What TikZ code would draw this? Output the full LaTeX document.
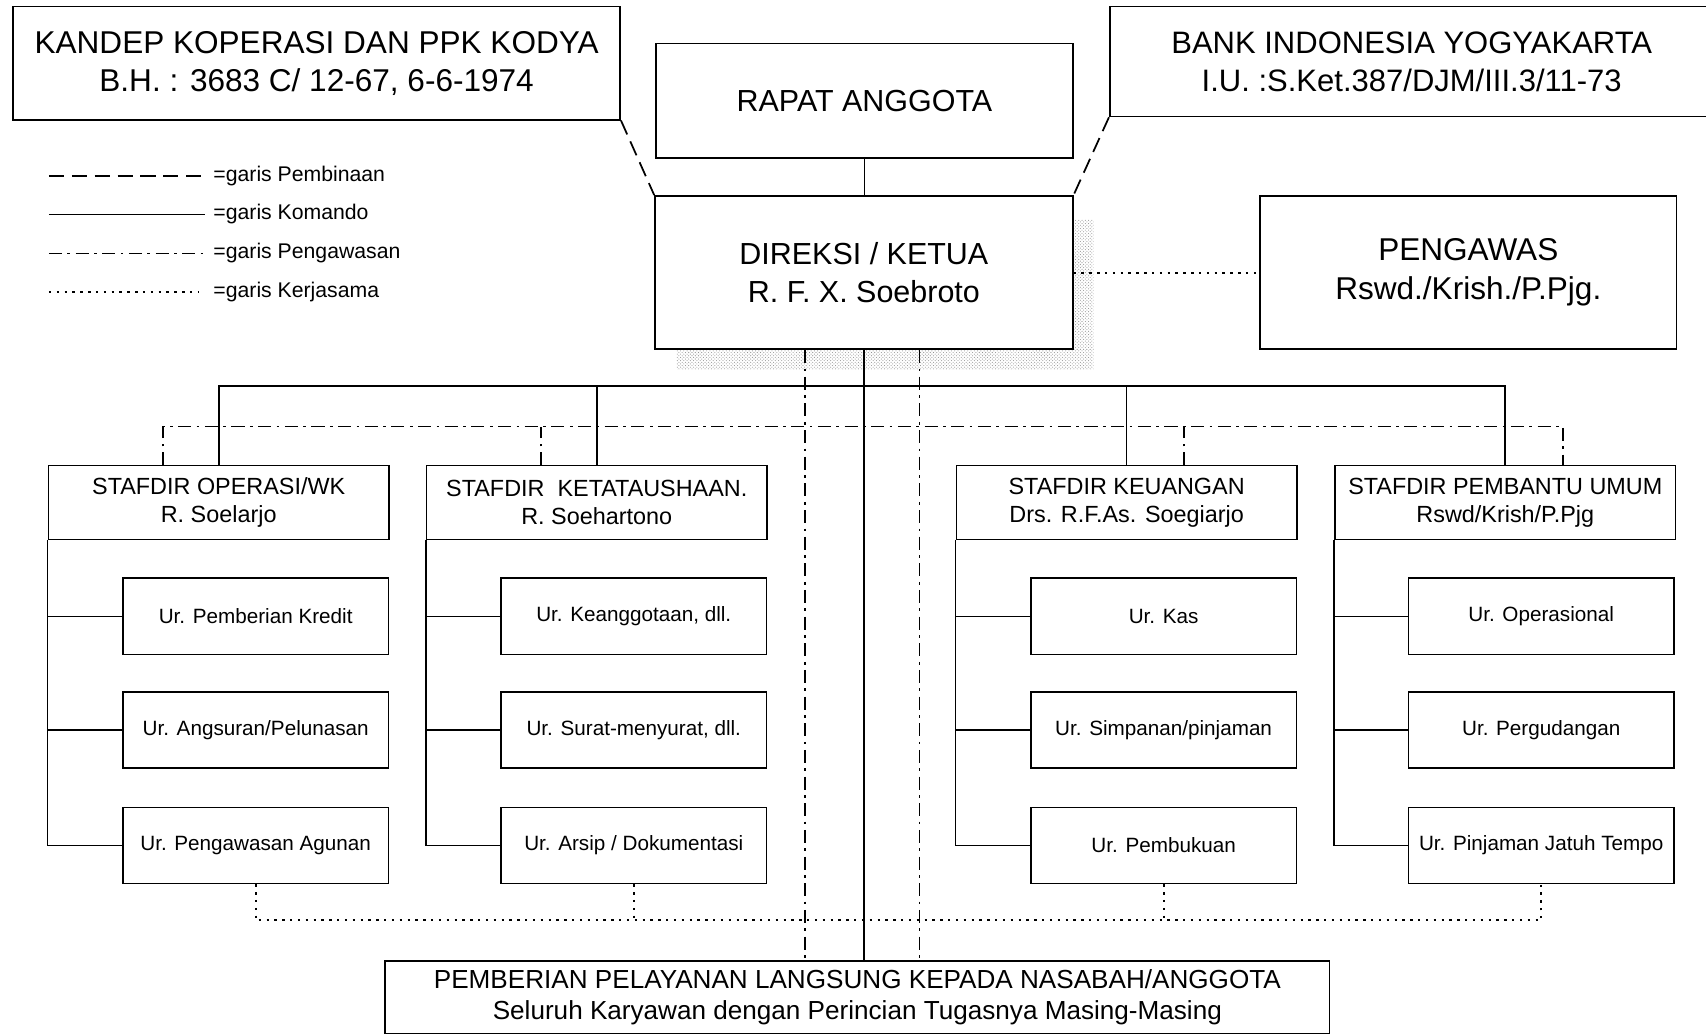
\documentclass[tikz,border=0pt]{standalone}
\usepackage{fontspec}
\setmainfont{Liberation Sans}
\usetikzlibrary{patterns}
\begin{document}
\begin{tikzpicture}[x=1pt,y=-1pt,
  bx/.style={draw, line width=1.5pt, inner sep=0pt, align=center},
  cmd/.style={line width=1.5pt},
  pemb/.style={line width=1.6pt, dash pattern=on 14pt off 7pt},
  pengw/.style={line width=1.6pt, dash pattern=on 12pt off 5pt on 2.5pt off 5pt},
  kerja/.style={line width=1.8pt, dash pattern=on 2.2pt off 5pt},
  ftop/.style={font=\fontsize{29}{35}\selectfont},
  fmid/.style={font=\fontsize{28}{35}\selectfont},
  fstaf/.style={font=\fontsize{21.5}{26}\selectfont},
  fur/.style={font=\fontsize{19}{23}\selectfont},
  fleg/.style={font=\fontsize{19.5}{23}\selectfont},
  fbot/.style={font=\fontsize{24}{29}\selectfont},
  ur/.style={bx, fur, minimum width=244pt, minimum height=70pt},
  staf/.style={bx, fstaf, minimum width=313pt, minimum height=68pt}
]
\useasboundingbox (0,0) rectangle (1568,951);

% stipple shadow
\fill[pattern=crosshatch dots, pattern color=gray!85] (622,321) rectangle (1005,340);
\fill[pattern=crosshatch dots, pattern color=gray!85] (986,202) rectangle (1005,321);

% top boxes
\node[bx, ftop, minimum width=558pt, minimum height=104pt] (kandep) at (291,58)
  {KANDEP KOPERASI DAN PPK KODYA\\B.H. : 3683 C/ 12-67, 6-6-1974};
\node[bx, fmid, minimum width=383pt, minimum height=105pt] (rapat) at (794.5,92.5)
  {RAPAT ANGGOTA};
\node[bx, font=\fontsize{28.5}{35}\selectfont, minimum width=555pt, minimum height=101pt] (bank) at (1297.5,56.5)
  {BANK INDONESIA YOGYAKARTA\\I.U. :S.Ket.387/DJM/III.3/11-73};
\node[bx, fmid, minimum width=384pt, minimum height=141pt] (direksi) at (794,250.5)
  {DIREKSI / KETUA\\R. F. X. Soebroto};
\node[bx, font=\fontsize{29}{36}\selectfont, minimum width=383pt, minimum height=141pt] (pengawas) at (1349.5,250.5)
  {PENGAWAS\\Rswd./Krish./P.Pjg.};

% legend
\node[fleg, anchor=west, inner sep=0pt] (leg1) at (196,162) {=garis Pembinaan};
\node[fleg, anchor=west, inner sep=0pt] (leg2) at (196,197) {=garis Komando};
\node[fleg, anchor=west, inner sep=0pt] (leg3) at (196,233) {=garis Pengawasan};
\node[fleg, anchor=west, inner sep=0pt] (leg4) at (196,268) {=garis Kerjasama};
\draw[pemb] ([xshift=-151pt]leg1.west) -- ([xshift=-8pt]leg1.west);
\draw[cmd] ([xshift=-151pt]leg2.west) -- ([xshift=-8pt]leg2.west);
\draw[pengw] ([xshift=-151pt]leg3.west) -- ([xshift=-8pt]leg3.west);
\draw[kerja] ([xshift=-151pt]leg4.west) -- ([xshift=-14pt]leg4.west);

% stafdir boxes
\node[staf] (s1) at (201,462) {STAFDIR OPERASI/WK\\R. Soelarjo};
\node[staf] (s2) at (548.5,462) {STAFDIR\ \ KETATAUSHAAN.\\R. Soehartono};
\node[staf] (s3) at (1035.5,462) {STAFDIR KEUANGAN\\Drs. R.F.As. Soegiarjo};
\node[staf] (s4) at (1383.5,462) {STAFDIR PEMBANTU UMUM\\Rswd/Krish/P.Pjg};

% urusan boxes
\node[ur] (u11) at (235,566.5) {Ur. Pemberian Kredit};
\node[ur] (u12) at (235,671) {Ur. Angsuran/Pelunasan};
\node[ur] (u13) at (235,777) {Ur. Pengawasan Agunan};
\node[ur] (u21) at (582.5,566.5) {Ur. Keanggotaan, dll.};
\node[ur] (u22) at (582.5,671) {Ur. Surat-menyurat, dll.};
\node[ur] (u23) at (582.5,777) {Ur. Arsip / Dokumentasi};
\node[ur] (u31) at (1069.5,566.5) {Ur. Kas};
\node[ur] (u32) at (1069.5,671) {Ur. Simpanan/pinjaman};
\node[ur] (u33) at (1069.5,777) {Ur. Pembukuan};
\node[ur] (u41) at (1416.5,566.5) {Ur. Operasional};
\node[ur] (u42) at (1416.5,671) {Ur. Pergudangan};
\node[ur] (u43) at (1416.5,777) {Ur. Pinjaman Jatuh Tempo};

% bottom box
\node[bx, fbot, minimum width=868pt, minimum height=67pt] (pemberian) at (788,916.5)
  {PEMBERIAN PELAYANAN LANGSUNG KEPADA NASABAH/ANGGOTA\\Seluruh Karyawan dengan Perincian Tugasnya Masing-Masing};

% coordinates for buses
\coordinate (busK) at (0,355);
\coordinate (busP) at (0,392);
\coordinate (busJ) at (0,846);

% komando lines
\draw[cmd] (rapat.south) -- (rapat.south |- direksi.north);
\draw[cmd] (direksi.south) -- (direksi.south |- pemberian.north);
\draw[cmd] (s1.north) -- (s1.north |- busK) -- (s4.north |- busK) -- (s4.north);
\draw[cmd] (s2.north) -- (s2.north |- busK);
\draw[cmd] (s3.north) -- (s3.north |- busK);
\foreach \s/\a/\b/\c in {s1/u11/u12/u13, s2/u21/u22/u23, s3/u31/u32/u33, s4/u41/u42/u43}{
  \draw[cmd] (\s.south west) |- (\c.west);
  \draw[cmd] (\s.south west |- \a.west) -- (\a.west);
  \draw[cmd] (\s.south west |- \b.west) -- (\b.west);
}

% pembinaan lines
\draw[pemb] (kandep.south east) -- (direksi.north west);
\draw[pemb] (bank.south west) -- (direksi.north east);

% pengawasan lines
\draw[pengw] ([xshift=-54pt]direksi.south) -- ([xshift=-54pt]direksi.south |- pemberian.north);
\draw[pengw] ([xshift=51pt]direksi.south) -- ([xshift=51pt]direksi.south |- pemberian.north);
\draw[pengw] ([xshift=-51pt]s1.north) -- ([xshift=-51pt]s1.north |- busP) -- ([xshift=53pt]s4.north |- busP) -- ([xshift=53pt]s4.north);
\draw[pengw] ([xshift=-51pt]s2.north) -- ([xshift=-51pt]s2.north |- busP);
\draw[pengw] ([xshift=53pt]s3.north) -- ([xshift=53pt]s3.north |- busP);

% kerjasama lines
\draw[kerja] (direksi.east) -- (pengawas.west);
\draw[kerja] (u13.south) -- (u13.south |- busJ) -- (u43.south |- busJ) -- (u43.south);
\draw[kerja] (u23.south) -- (u23.south |- busJ);
\draw[kerja] (u33.south) -- (u33.south |- busJ);
\end{tikzpicture}
\end{document}
